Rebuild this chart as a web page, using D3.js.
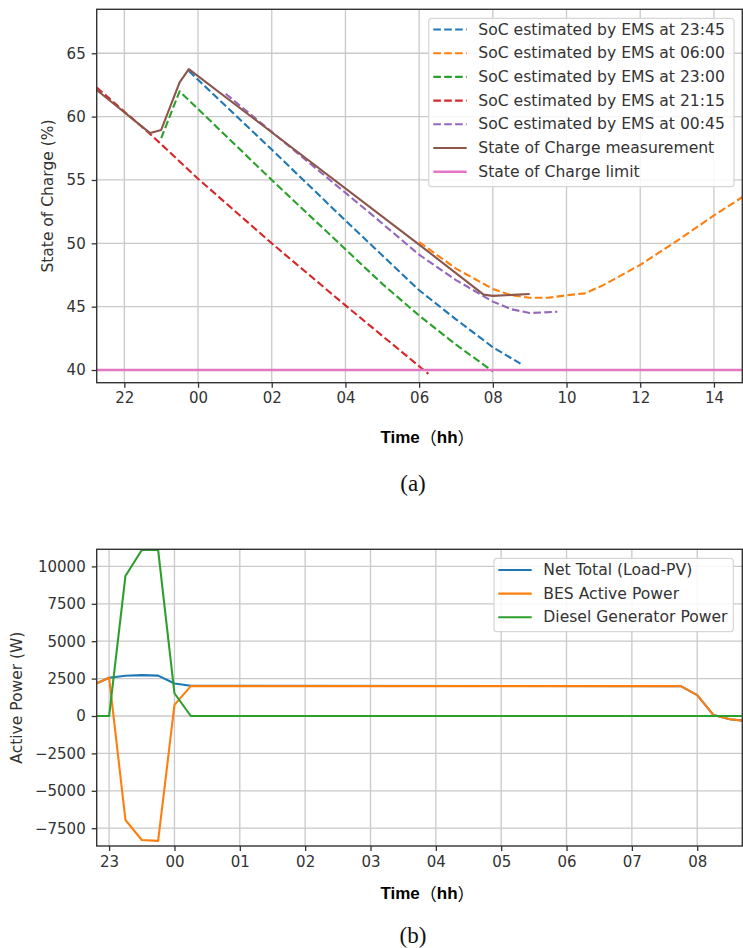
<!DOCTYPE html>
<html>
<head>
<meta charset="utf-8">
<script src="https://cdn.jsdelivr.net/npm/d3@7"></script>
<style>
  body { margin: 0; background: #fff; }
  svg text { font-family: "DejaVu Sans", sans-serif; fill: #333; }
  .grid line { stroke: #c9c9c9; stroke-width: 1.3; }
  .frame { fill: none; stroke: #333; stroke-width: 1.4; }
  .xlab { font-family: "Liberation Sans", Arial, sans-serif; font-weight: bold; font-size: 17px; fill: #000; }
  .cap { font-family: "Liberation Serif", "DejaVu Serif", serif; font-size: 23px; fill: #111; }
</style>
</head>
<body>
<svg id="fig" width="743" height="948"></svg>
<script>
"use strict";

// ---- panel (a): state of charge, time in hours from midnight of day 1
var socTicks = [22, 24, 26, 28, 30, 32, 34, 36, 38];
var socYTicks = [40, 45, 50, 55, 60, 65];
var est2345 = [[23.75, 63.6], [26, 57.4], [28, 51.8], [30, 46.3], [31, 44.0], [32, 41.8], [32.75, 40.5]];
var est0600 = [[30, 50.1], [31, 48.0], [32, 46.4], [32.5, 45.9], [33, 45.7], [33.5, 45.7], [34, 45.9], [34.5, 46.05], [35, 46.7], [36, 48.3], [37, 50.2], [38, 52.2], [38.8, 53.7]];
var est2300 = [[23, 58.3], [23.5, 62.0], [26, 55.0], [29, 46.8], [30, 44.3], [31, 42.0], [32, 39.9]];
var est2115 = [[21.25, 62.3], [22.75, 58.5], [24, 55.1], [26, 50.0], [28, 45.1], [29, 42.7], [30, 40.3], [30.25, 39.7]];
var est0045 = [[24.75, 61.8], [26, 58.8], [28.7, 52.3], [30, 49.1], [31, 47.1], [32, 45.4], [32.5, 44.8], [33, 44.5], [33.75, 44.6]];
var socMeas = [[21.25, 62.1], [22.7, 58.7], [23, 58.95], [23.5, 62.7], [23.75, 63.75], [30, 49.9], [31.75, 45.95], [32, 45.85], [33, 46.0]];
var socLimit = [[21.25, 40], [38.8, 40]];

// ---- panel (b): active power
var pwTicks = [23, 24, 25, 26, 27, 28, 29, 30, 31, 32];
var pwYTicks = [-7500, -5000, -2500, 0, 2500, 5000, 7500, 10000];
var pwTimes = [22.75, 23, 23.25, 23.5, 23.75, 24, 24.25, 31.75, 32, 32.25, 32.5, 32.75];
var netTotal = [2060, 2560, 2690, 2730, 2700, 2170, 2020, 2000, 1400, 60, -220, -330];
var besPower = [2060, 2560, -6950, -8290, -8350, 740, 2000, 2000, 1400, 60, -220, -330];
var dieselPower = [0, 0, 9360, 11100, 11100, 1520, 0, 0, 0, 0, 0, 0];

var C = {
  blue: "#1f77b4", orange: "#ff7f0e", green: "#2ca02c", red: "#d62728",
  purple: "#9467bd", brown: "#8c564b", pink: "#e377c2"
};

var svg = d3.select("#fig");
var hh = (d) => String(d % 24).padStart(2, "0");

function panel(cfg) {
  var x = d3.scaleLinear().domain(cfg.xDom).range([cfg.left, cfg.right]);
  var y = d3.scaleLinear().domain(cfg.yDom).range([cfg.bottom, cfg.top]);
  var g = svg.append("g");

  var grid = g.append("g").attr("class", "grid");
  grid.selectAll(".gx").data(cfg.xTicks).enter().append("line")
    .attr("x1", (d) => x(d)).attr("x2", (d) => x(d))
    .attr("y1", cfg.top).attr("y2", cfg.bottom);
  grid.selectAll(".gy").data(cfg.yTicks).enter().append("line")
    .attr("x1", cfg.left).attr("x2", cfg.right)
    .attr("y1", (d) => y(d)).attr("y2", (d) => y(d));

  var xAxis = g.append("g")
    .attr("transform", `translate(0,${cfg.bottom})`)
    .call(d3.axisBottom(x).tickValues(cfg.xTicks).tickFormat(hh).tickSize(5).tickPadding(5));
  var yAxis = g.append("g")
    .attr("transform", `translate(${cfg.left},0)`)
    .call(d3.axisLeft(y).tickValues(cfg.yTicks).tickFormat(cfg.yFmt).tickSize(5).tickPadding(6));
  [xAxis, yAxis].forEach((a) => {
    a.select(".domain").remove();
    a.selectAll(".tick line").attr("stroke", "#333").attr("stroke-width", 1.3);
    a.selectAll(".tick text").style("font-size", "15px").attr("fill", "#333");
  });

  var clipId = "clip" + cfg.id;
  svg.append("clipPath").attr("id", clipId).append("rect")
    .attr("x", cfg.left).attr("y", cfg.top)
    .attr("width", cfg.right - cfg.left).attr("height", cfg.bottom - cfg.top);

  var line = d3.line().x((d) => x(d[0])).y((d) => y(d[1]));
  g.append("g").attr("clip-path", `url(#${clipId})`)
    .selectAll("path").data(cfg.series).enter().append("path")
    .attr("d", (d) => line(d.values))
    .attr("fill", "none")
    .attr("stroke", (d) => d.color)
    .attr("stroke-width", (d) => d.width || 2.1)
    .attr("stroke-linejoin", "round")
    .attr("stroke-dasharray", (d) => (d.dash ? "7.6,3.3" : null));

  g.append("rect").attr("class", "frame")
    .attr("x", cfg.left).attr("y", cfg.top)
    .attr("width", cfg.right - cfg.left).attr("height", cfg.bottom - cfg.top);

  g.append("text")
    .attr("transform", `translate(${cfg.yLabX},${(cfg.top + cfg.bottom) / 2}) rotate(-90)`)
    .attr("text-anchor", "middle").attr("dominant-baseline", "central")
    .style("font-size", "15.5px").text(cfg.yLabel);

  var xl = g.append("text").attr("class", "xlab")
    .attr("x", (cfg.left + cfg.right) / 2 + 8).attr("y", cfg.xLabY)
    .attr("text-anchor", "middle").attr("dominant-baseline", "central");
  xl.append("tspan").text("Time");
  xl.append("tspan").style("font-family", "'Noto Sans CJK SC'").style("font-weight", "normal").text("（");
  xl.append("tspan").text("hh");
  xl.append("tspan").style("font-family", "'Noto Sans CJK SC'").style("font-weight", "normal").text("）");

  g.append("text").attr("class", "cap")
    .attr("x", 413).attr("y", cfg.capY)
    .attr("text-anchor", "middle").attr("dominant-baseline", "central")
    .text(cfg.caption);

  // legend
  var L = cfg.legend;
  g.append("rect")
    .attr("x", L.x0).attr("y", L.y0).attr("width", L.x1 - L.x0).attr("height", L.y1 - L.y0)
    .attr("rx", 3).attr("fill", "#fff").attr("fill-opacity", 0.85)
    .attr("stroke", "#d6d6d6").attr("stroke-width", 1.2);
  var items = g.selectAll(".leg" + cfg.id).data(cfg.series).enter().append("g")
    .attr("transform", (d, i) => `translate(0,${L.row0 + i * L.step})`);
  items.append("line")
    .attr("x1", L.h0).attr("x2", L.h1)
    .attr("stroke", (d) => d.color).attr("stroke-width", (d) => d.width || 2.1)
    .attr("stroke-dasharray", (d) => (d.dash ? "7.6,3.3" : null));
  items.append("text")
    .attr("x", L.tx).attr("dominant-baseline", "central")
    .style("font-size", "15.6px").text((d) => d.name);
}

panel({
  id: "a",
  left: 96.7, right: 742.3, top: 9.3, bottom: 382.7,
  xDom: [21.25, 38.77], yDom: [39.0, 68.47],
  xTicks: socTicks, yTicks: socYTicks, yFmt: d3.format("d"),
  yLabel: "State of Charge (%)", yLabX: 48,
  xLabY: 437, capY: 483, caption: "(a)",
  legend: { x0: 428.7, x1: 734, y0: 18.3, y1: 186.7, row0: 29.5, step: 23.7, h0: 433.3, h1: 466.7, tx: 478.3 },
  series: [
    { name: "SoC estimated by EMS at 23:45", values: est2345, color: C.blue, dash: true },
    { name: "SoC estimated by EMS at 06:00", values: est0600, color: C.orange, dash: true },
    { name: "SoC estimated by EMS at 23:00", values: est2300, color: C.green, dash: true },
    { name: "SoC estimated by EMS at 21:15", values: est2115, color: C.red, dash: true },
    { name: "SoC estimated by EMS at 00:45", values: est0045, color: C.purple, dash: true },
    { name: "State of Charge measurement", values: socMeas, color: C.brown, dash: false },
    { name: "State of Charge limit", values: socLimit, color: C.pink, dash: false, width: 2.5 },
  ],
});

panel({
  id: "b",
  left: 96.7, right: 742.3, top: 549.3, bottom: 846,
  xDom: [22.81, 32.69], yDom: [-8690, 11143],
  xTicks: pwTicks, yTicks: pwYTicks, yFmt: d3.format("d"),
  yLabel: "Active Power (W)", yLabX: 17,
  xLabY: 893, capY: 935, caption: "(b)",
  legend: { x0: 494, x1: 733.3, y0: 558.3, y1: 631.7, row0: 570, step: 23.6, h0: 498.3, h1: 531.7, tx: 543.3 },
  series: [
    { name: "Net Total (Load-PV)", values: pwTimes.map((t, i) => [t, netTotal[i]]), color: C.blue },
    { name: "BES Active Power", values: pwTimes.map((t, i) => [t, besPower[i]]), color: C.orange },
    { name: "Diesel Generator Power", values: pwTimes.map((t, i) => [t, dieselPower[i]]), color: C.green },
  ],
});
</script>
</body>
</html>
